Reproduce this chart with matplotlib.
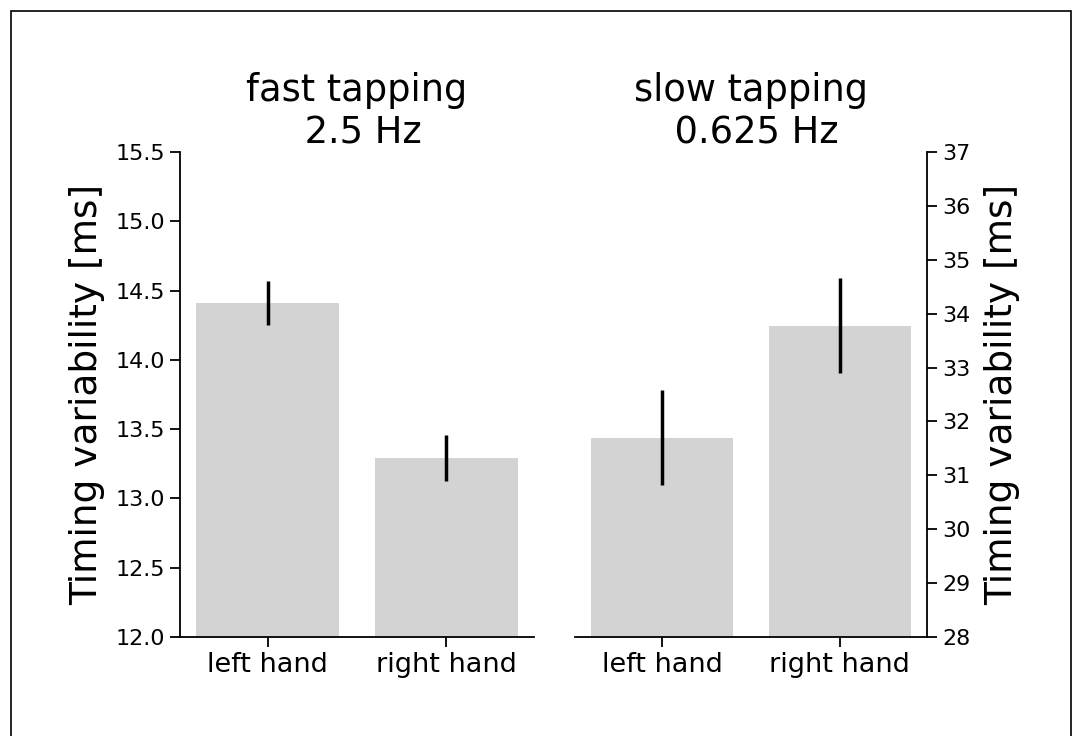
import numpy as np
import matplotlib
matplotlib.use('Agg')
import matplotlib.pyplot as plt
from matplotlib.patches import Rectangle

hands = ['left hand', 'right hand']

fast_mean = [14.41, 13.29]
fast_err  = [0.16, 0.165]

slow_mean = [31.70, 33.78]
slow_err  = [0.88, 0.89]

fig = plt.figure(figsize=(10.77, 7.36), dpi=100)

# frame around the whole figure
fig.patches.append(Rectangle((11/1077, -0.01), 1060/1077, 1.01 - 11/736, transform=fig.transFigure,
                             fill=False, edgecolor='black', linewidth=1.2))

ax1 = fig.add_axes([0.1671, 0.1345, 0.3287, 0.659])
ax2 = fig.add_axes([0.5339, 0.1345, 0.3268, 0.659])

x = np.arange(len(hands))

ax1.bar(x, fast_mean, width=0.8, color='lightgray')
ax1.errorbar(x, fast_mean, yerr=fast_err, fmt='none', ecolor='black', elinewidth=2.5, capsize=0)
ax1.set_ylim(12, 15.5)
ax1.set_yticks(np.arange(12, 15.51, 0.5))
ax1.set_title('fast tapping\n 2.5 Hz', fontsize=26.5)
ax1.set_ylabel('Timing variability [ms]', fontsize=27, labelpad=7)
ax1.spines['top'].set_visible(False)
ax1.spines['right'].set_visible(False)

ax2.bar(x, slow_mean, width=0.8, color='lightgray')
ax2.errorbar(x, slow_mean, yerr=slow_err, fmt='none', ecolor='black', elinewidth=2.5, capsize=0)
ax2.set_ylim(28, 37)
ax2.set_yticks(np.arange(28, 38, 1))
ax2.set_title('slow tapping\n 0.625 Hz', fontsize=26.5)
ax2.yaxis.tick_right()
ax2.yaxis.set_label_position('right')
ax2.set_ylabel('Timing variability [ms]', fontsize=27, labelpad=10)
ax2.spines['top'].set_visible(False)
ax2.spines['left'].set_visible(False)

for ax in (ax1, ax2):
  ax.set_xticks(x)
  ax.set_xticklabels(hands)
  ax.tick_params(axis='x', labelsize=19.5, length=7.5, width=1.3)
  ax.tick_params(axis='y', labelsize=16, length=7.5, width=1.3)
  for s in ax.spines.values():
    s.set_linewidth(1.3)

plt.savefig('out.png', dpi=100)
